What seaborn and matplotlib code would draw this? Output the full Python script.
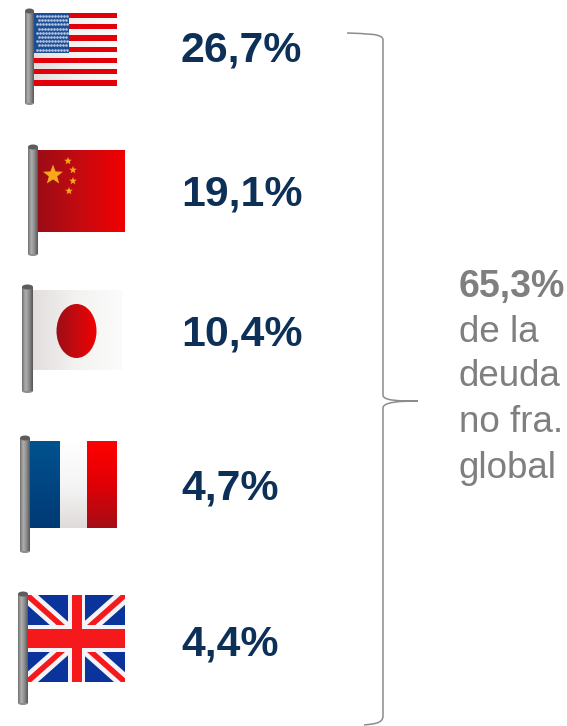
import numpy as np
import seaborn as sns
import matplotlib.pyplot as plt
from matplotlib.patches import Rectangle, Ellipse, PathPatch, Polygon
from matplotlib.path import Path

countries = ["EEUU", "China", "Japon", "Francia", "Reino Unido"]
shares = ["26,7%", "19,1%", "10,4%", "4,7%", "4,4%"]
total_share = "65,3%"
total_lines = ["de la", "deuda", "no fra.", "global"]

sns.set_theme(style="white")
plt.rcParams['font.family'] = ['Liberation Sans', 'DejaVu Sans']

NAVY = "#0c3058"
GRAY = "#7f7f7f"
red_h = sns.blend_palette(["#9c0d16", "#c60a10", "#f20000"], as_cmap=True)
red_v = sns.blend_palette(["#ff0000", "#e00006", "#a50d16"], as_cmap=True)
blue_v = sns.blend_palette(["#00528f", "#003a75"], as_cmap=True)
white_h = sns.blend_palette(["#e2dedd", "#f4f3f2", "#fbfbfb"], as_cmap=True)
white_v = sns.blend_palette(["#ffffff", "#f6f5f5", "#dfdbda"], as_cmap=True)
pole_cmap = sns.blend_palette(["#707070", "#b0b0b0", "#8a8a8a", "#555555"], as_cmap=True)
h_grad = np.linspace(0, 1, 100).reshape(1, -1)
v_grad = np.linspace(0, 1, 100).reshape(-1, 1)

fig = plt.figure(figsize=(5.67, 7.26), dpi=100)
ax = fig.add_axes([0, 0, 1, 1])
ax.set_axis_off()


def gradient(x0, x1, y0, y1, grad, cmap, clip=None, z=2):
    im = ax.imshow(grad, cmap=cmap, extent=(x0, x1, y1, y0), aspect='auto',
                   interpolation='bilinear', zorder=z)
    if clip is not None:
        ax.add_patch(clip)
        clip.set_visible(False)
        im.set_clip_path(clip)
    return im


def pole(x0, x1, y0, y1):
    # grey mast with rounded ends
    gradient(x0, x1, y0 + 2, y1 - 2, h_grad, pole_cmap, z=3)
    ax.add_patch(Ellipse(((x0 + x1) / 2, y0 + 2), x1 - x0, 5, color="#5c5c5c", zorder=4, lw=0))
    ax.add_patch(Ellipse(((x0 + x1) / 2, y1 - 2), x1 - x0, 4, color="#8c8c8c", zorder=2.5, lw=0))


def star(cx, cy, r, color="#f6a81c", z=4):
    ang = np.deg2rad(np.arange(10) * 36 - 90)
    rad = np.where(np.arange(10) % 2 == 0, r, r * 0.42)
    pts = np.column_stack([cx + rad * np.cos(ang), cy + rad * np.sin(ang)])
    ax.add_patch(Polygon(pts, closed=True, color=color, lw=0, zorder=z))


# USA
x0, x1, y0, y1 = 34, 117, 13, 86
h = (y1 - y0) / 13
for i in range(13):
    if i % 2 == 0:
        ax.add_patch(Rectangle((x0, y0 + i * h), x1 - x0, h, color="#e2000a", lw=0, zorder=2))
    else:
        gradient(x0, x1, y0 + i * h, y0 + (i + 1) * h, h_grad, white_h)
ax.add_patch(Rectangle((x0, y0), 35, 40, color="#1c4c94", lw=0, zorder=3))
for row in range(9):
    for col in range(11 if row % 2 == 0 else 10):
        sx = x0 + 3 + col * 3 + (1.5 if row % 2 else 0)
        ax.plot(sx, y0 + 3 + row * 4.2, 'o', ms=1.9, color="#b4c6e0", mew=0, zorder=4)
pole(25, 34, 9, 105)

# China
gradient(38, 125, 150, 232, h_grad, red_h)
star(53, 175, 10.5)
star(68, 161, 4)
star(73, 170, 4)
star(73, 181, 4)
star(69, 191, 4)
pole(28, 38, 145, 256)

# Japan
gradient(33, 122, 290, 370, h_grad, white_h)
gradient(56, 97, 303, 358, h_grad, red_h,
         clip=Ellipse((76.5, 331), 40, 54, transform=ax.transData), z=3)
pole(22, 33, 285, 393)

# France
gradient(30, 60, 441, 528, v_grad, blue_v)
gradient(60, 87, 441, 528, v_grad, white_v)
gradient(87, 117, 441, 528, v_grad, red_v)
pole(20, 30, 436, 553)

# UK
ux0, ux1, uy0, uy1 = 27, 125, 595, 682
bg = Rectangle((ux0, uy0), ux1 - ux0, uy1 - uy0, color="#0a349b", lw=0, zorder=2)
ax.add_patch(bg)
for xs, ys in (([ux0, ux1], [uy0, uy1]), ([ux0, ux1], [uy1, uy0])):
    l1, = ax.plot(xs, ys, color="#f4f4f8", lw=10.5, solid_capstyle='butt', zorder=2.1)
    l2, = ax.plot(xs, ys, color="#f5191c", lw=4, solid_capstyle='butt', zorder=2.2)
    l1.set_clip_path(bg)
    l2.set_clip_path(bg)
ax.add_patch(Rectangle((68, uy0), 17, uy1 - uy0, color="#f4f4f8", lw=0, zorder=2.3))
ax.add_patch(Rectangle((ux0, 625), ux1 - ux0, 27, color="#f4f4f8", lw=0, zorder=2.3))
ax.add_patch(Rectangle((72, uy0), 10, uy1 - uy0, color="#f5191c", lw=0, zorder=2.4))
ax.add_patch(Rectangle((ux0, 629), ux1 - ux0, 19, color="#f5191c", lw=0, zorder=2.4))
pole(18, 28, 592, 705)

# share labels
label_y = [51, 195, 335, 488, 645]
for share, y in zip(shares, label_y):
    ax.text(181, y, share, color=NAVY, fontsize=30.8, fontweight='bold', va='center', ha='left')

# brace
verts = [(347, 33), (365, 34), (383, 33), (383, 40),
         (383, 395),
         (383, 401), (400, 401), (418, 401),
         (400, 401), (383, 402), (383, 408),
         (383, 716),
         (383, 724), (372, 724), (364, 725)]
codes = [Path.MOVETO, Path.CURVE4, Path.CURVE4, Path.CURVE4,
         Path.LINETO,
         Path.CURVE4, Path.CURVE4, Path.CURVE4,
         Path.CURVE4, Path.CURVE4, Path.CURVE4,
         Path.LINETO,
         Path.CURVE4, Path.CURVE4, Path.CURVE4]
ax.add_patch(PathPatch(Path(verts, codes), fc='none', ec="#8c8c8c", lw=1.1, zorder=2))

# total note
ax.text(459, 287, total_share, color=GRAY, fontsize=27, fontweight='bold', va='center', ha='left')
for line, y in zip(total_lines, [333, 377, 423, 468]):
    ax.text(459, y, line, color=GRAY, fontsize=26.5, va='center', ha='left')

ax.set_xlim(0, 567)
ax.set_ylim(726, 0)
fig.savefig("out.png", dpi=100, facecolor="white")
